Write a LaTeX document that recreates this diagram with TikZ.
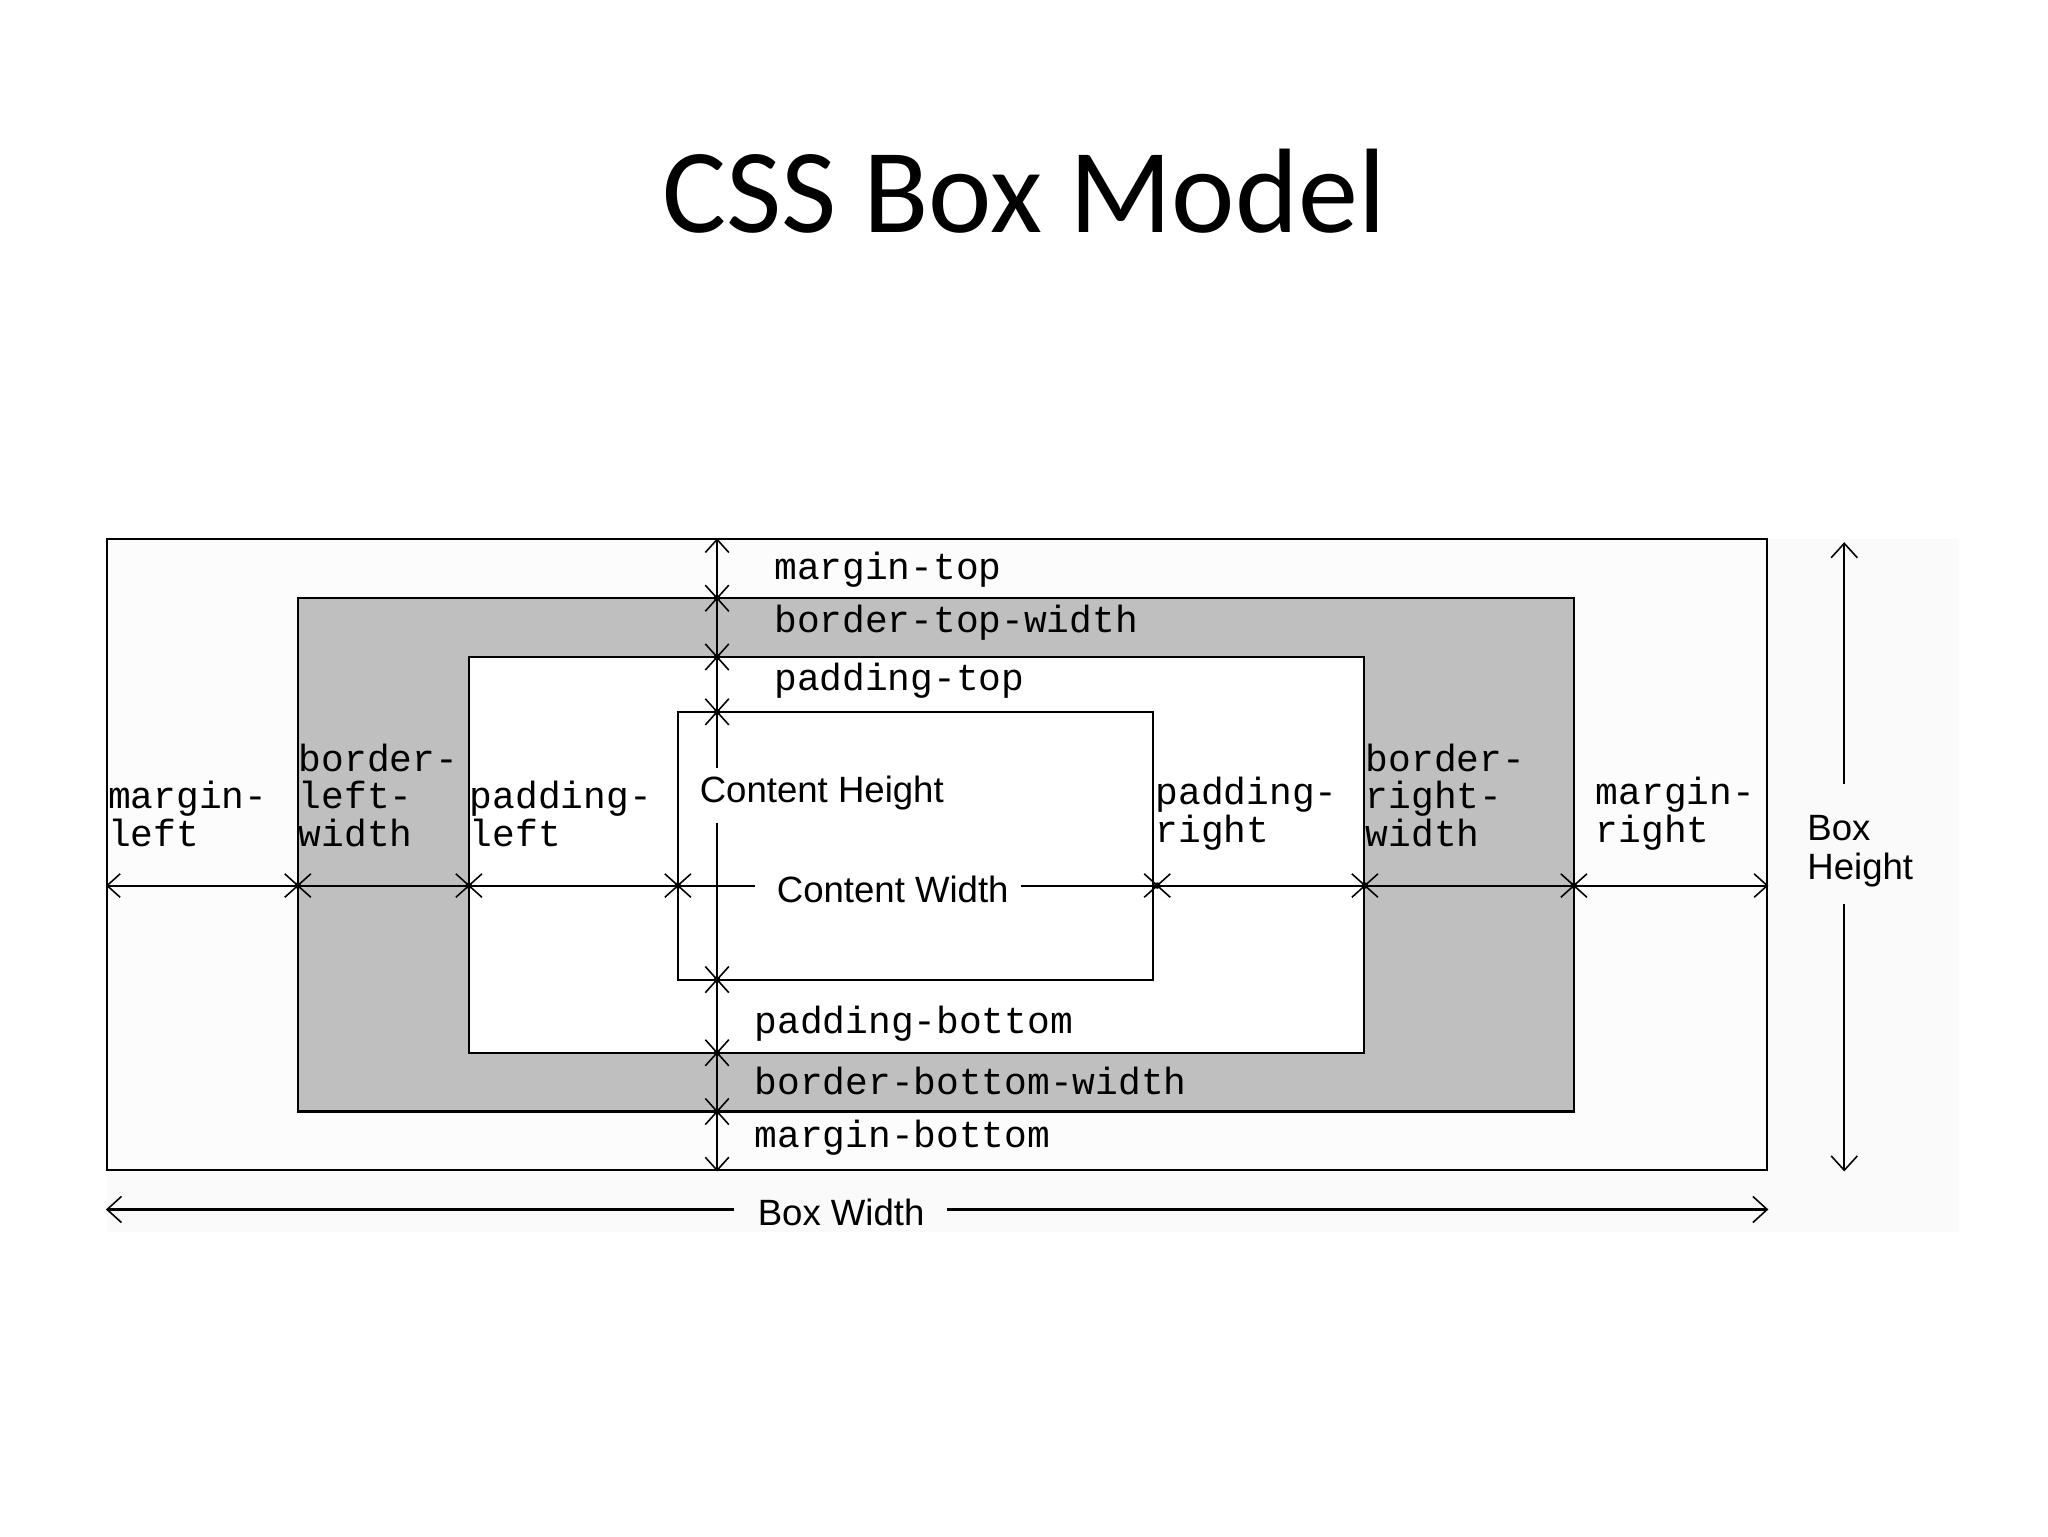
\documentclass[tikz,border=0pt]{standalone}
\usepackage{fontspec}
\setmainfont{Carlito}
\newfontfamily\monof{Liberation Mono}
\newfontfamily\sansf{Liberation Sans}
\begin{document}
\begin{tikzpicture}[x=1pt,y=-1pt,line width=1.6pt,
  mono/.style={font=\monof\fontsize{29}{29}\selectfont,inner sep=0pt,anchor=west,align=left},
  sans/.style={font=\sansf\fontsize{28}{30}\selectfont,inner sep=0pt,anchor=west,align=left},
  tk/.style={line width=1.2pt}]
\useasboundingbox (0,0) rectangle (1568,1176);
\fill[white] (0,0) rectangle (1568,1176);
\fill[black!2] (82,413) rectangle (1500,943);
\node[font=\fontsize{92}{100}\selectfont,anchor=base] (title) at (784,178) {CSS Box Model};
\draw[fill=black!1] (82,413) rectangle (1353,896);
\draw[fill=black!25] (228,458) rectangle (1205,851);
\draw[fill=white] (359,503) rectangle (1044,806);
\draw[fill=white] (519,545) rectangle (883,750);
% main lines
\coordinate (hl) at (82,678); \coordinate (hg1) at (578,678);
\coordinate (hg2) at (782,678); \coordinate (hr) at (1353,678);
\draw (hl) -- (hg1); \draw (hg2) -- (hr);
\coordinate (vt) at (549,413); \coordinate (vg1) at (549,588);
\coordinate (vg2) at (549,630); \coordinate (vb) at (549,896);
\draw (vt) -- (vg1); \draw (vg2) -- (vb);
% ticks horizontal
\foreach \p in {228,359,519,886,1045,1205}{
  \draw[tk] (\p-10,669)--(\p,678)--(\p-10,687);
  \draw[tk] (\p+10,669)--(\p,678)--(\p+10,687);
  \fill (\p,678) circle (2.5);}
\draw[tk] (92,669)--(82,678)--(92,687);
\draw[tk] (1343,669)--(1353,678)--(1343,687);
% ticks vertical
\foreach \q in {458,503,545,750,806,851}{
  \draw[tk] (540,\q-10)--(549,\q)--(558,\q-10);
  \draw[tk] (540,\q+10)--(549,\q)--(558,\q+10);
  \fill (549,\q) circle (2.5);}
\draw[tk] (540,423)--(549,413)--(558,423);
\draw[tk] (540,886)--(549,896)--(558,886);
% box height / width
\coordinate (bh1) at (1412,416); \coordinate (bh2) at (1412,600);
\coordinate (bh3) at (1412,692); \coordinate (bh4) at (1412,896);
\draw (bh1)--(bh2); \draw (bh3)--(bh4);
\draw[tk] (1402,427)--(1412,416)--(1422,427);
\draw[tk] (1402,885)--(1412,896)--(1422,885);
\coordinate (bw1) at (82,926); \coordinate (bw2) at (562,926);
\coordinate (bw3) at (725,926); \coordinate (bw4) at (1353,926);
\draw (bw1)--(bw2); \draw (bw3)--(bw4);
\draw[tk] (93,916)--(82,926)--(93,936);
\draw[tk] (1342,916)--(1353,926)--(1342,936);
% labels
\node[mono] (mt) at (592,436) {margin-top};
\node[mono] (btw) at (592,477) {border-top-width};
\node[mono] (pt) at (592,521) {padding-top};
\node[mono] (ml) at (82,623) {margin-\\left};
\node[mono] (blw) at (228,609) {border-\\left-\\width};
\node[mono] (pl) at (359,623) {padding-\\left};
\node[mono] (pr) at (884,623) {padding-\\right};
\node[mono] (brw) at (1045,609) {border-\\right-\\width};
\node[mono] (mr) at (1221,623) {margin-\\right};
\node[mono] (pb) at (577,784) {padding-bottom};
\node[mono] (bbw) at (577,828) {border-bottom-width};
\node[mono] (mb) at (577,871) {margin-bottom};
\node[sans] (ch) at (535,607) {Content Height};
\node[sans] (cw) at (594,681) {Content Width};
\node[sans] (bh) at (1383,652) {Box\\Height};
\node[sans,anchor=center] (bw) at (644,928) {Box Width};
\end{tikzpicture}
\end{document}
